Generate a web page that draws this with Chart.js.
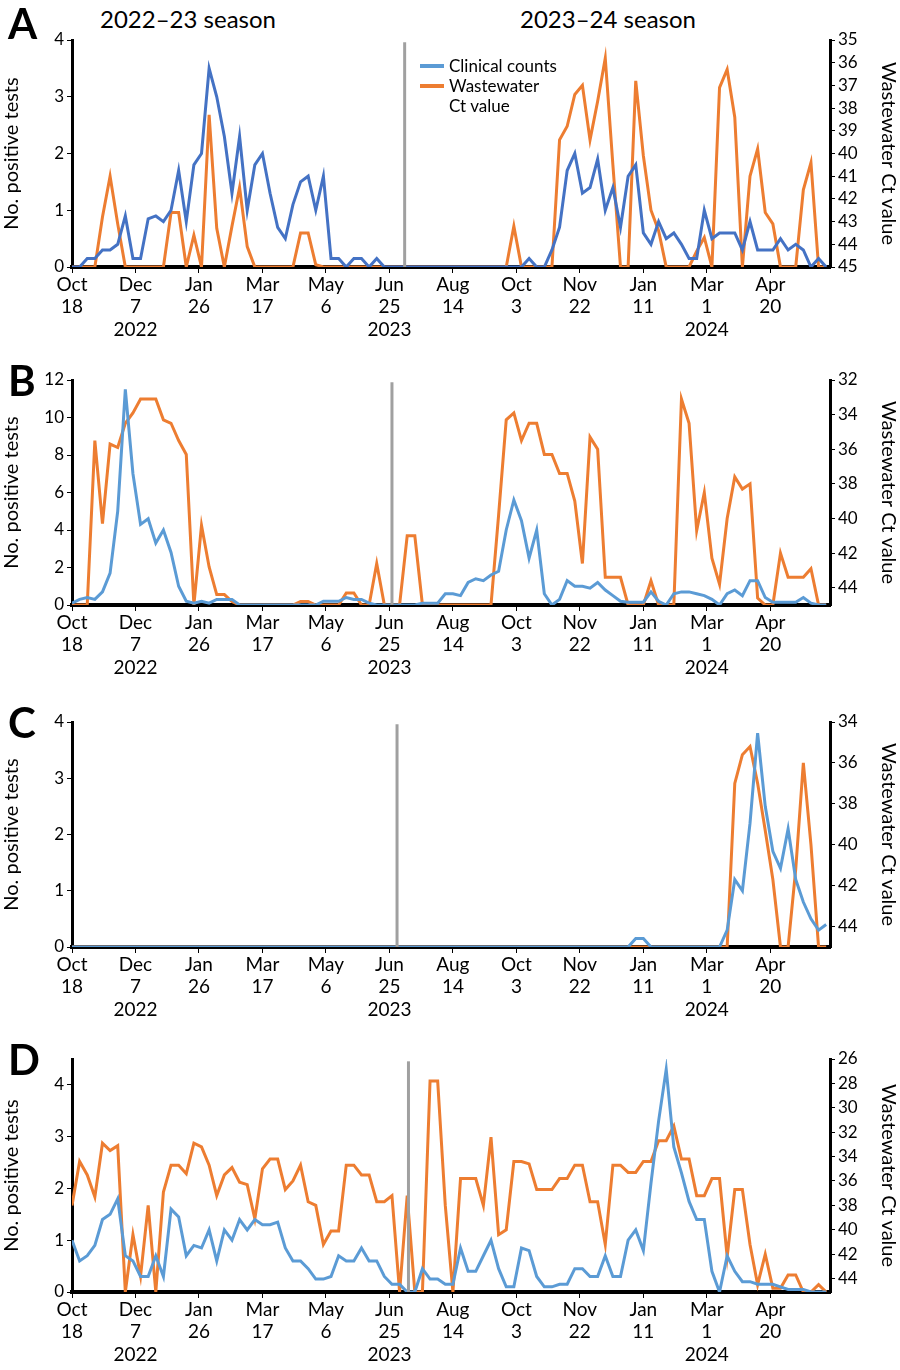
<!DOCTYPE html>
<html>
<head>
<meta charset="utf-8">
<script src="https://cdn.jsdelivr.net/npm/chart.js@4.4.1/dist/chart.umd.min.js"></script>
<style>
  body { margin: 0; width: 900px; height: 1370px; background: #fff; position: relative; font-family: Lato, "Open Sans", sans-serif; overflow: hidden; }
  .panel { position: absolute; left: 0; width: 900px; }
  .letter { position: absolute; left: 8px; font: bold 42px Lato, sans-serif; color: #000; }
  .season { position: absolute; top: 4px; font-size: 24px; color: #000; }
  .legend { position: absolute; left: 420px; top: 56px; font-size: 17px; line-height: 20px; color: #000; }
  .legend div { display: flex; align-items: flex-start; }
  .legend span.sw { display: inline-block; width: 24px; height: 4px; margin: 8px 5px 0 0; }
</style>
</head>
<body>
<div class="season" style="left:100px">2022–23 season</div>
<div class="season" style="left:520px">2023–24 season</div>

<div class="panel" style="top:0;height:345px"><canvas id="chartA"></canvas></div>
<div class="panel" style="top:340px;height:343px"><canvas id="chartB"></canvas></div>
<div class="panel" style="top:682px;height:343px"><canvas id="chartC"></canvas></div>
<div class="panel" style="top:1019px;height:351px"><canvas id="chartD"></canvas></div>

<div class="letter" style="top:-2px">A</div>
<div class="letter" style="top:355px">B</div>
<div class="letter" style="top:697px">C</div>
<div class="letter" style="top:1034px">D</div>

<div class="legend">
  <div><span class="sw" style="background:#5B9BD5"></span>Clinical counts</div>
  <div><span class="sw" style="background:#ED7D31"></span>Wastewater<br>Ct value</div>
</div>

<script>
// days since Oct 18 2022, one value every 6 days
const days = Array.from({ length: 100 }, (_, i) => i * 6);
const tickDays = [0, 50, 100, 150, 200, 250, 300, 350, 400, 450, 500, 550];
const yearTicks = { 50: '2022', 250: '2023', 500: '2024' };

const clinicalA = [0,0,0.15,0.15,0.3,0.3,0.4,0.9,0.15,0.15,0.85,0.9,0.8,1.0,1.7,0.8,1.8,2.0,3.5,3.0,
  2.3,1.3,2.3,1.0,1.8,2.0,1.3,0.7,0.5,1.1,1.5,1.6,1.0,1.6,0.15,0.15,0,0.15,0.15,0,
  0.15,0,0,0,0,0,0,0,0,0,0,0,0,0,0,0,0,0,0,0,
  0.15,0,0,0.3,0.7,1.7,2.0,1.3,1.4,1.9,1.0,1.4,0.7,1.6,1.8,0.6,0.4,0.8,0.5,0.6,
  0.4,0.15,0.15,1.0,0.5,0.6,0.6,0.6,0.3,0.8,0.3,0.3,0.3,0.5,0.3,0.4,0.3,0,0.15,0];
const ctA = [45,45,45,45,42.8,41.0,43.1,45,45,45,45,45,45,42.6,42.6,45,43.6,45,38.3,43.3,
  45,43.2,41.5,44.1,45,45,45,45,45,45,43.5,43.5,44.9,45,45,45,45,45,45,45,
  45,45,45,45,45,45,45,45,45,45,45,45,45,45,45,45,45,45,43.2,45,
  45,45,45,45,39.4,38.8,37.4,37.0,39.4,37.7,35.8,40.5,45,45,36.8,40.1,42.5,43.4,45,45,
  45,45,44.3,43.7,45,37.1,36.3,38.4,45,41.0,39.8,42.6,43.1,45,45,45,41.6,40.4,45,45];

const clinicalB = [0.1,0.3,0.4,0.3,0.7,1.7,5.0,11.5,7.0,4.3,4.6,3.3,4.0,2.8,1.0,0.2,0.1,0.2,0.1,0.3,
  0.3,0.3,0,0,0,0,0,0,0,0,0,0,0,0.2,0.2,0.2,0.4,0.3,0.3,0.1,
  0,0,0,0,0,0,0.1,0.1,0.1,0.6,0.6,0.5,1.2,1.4,1.3,1.6,1.8,4.0,5.6,4.5,
  2.5,4.0,0.6,0,0.3,1.3,1.0,1.0,0.9,1.2,0.8,0.5,0.2,0.15,0.15,0.15,0.7,0.2,0,0.6,
  0.7,0.7,0.6,0.5,0.3,0,0.6,0.8,0.5,1.3,1.3,0.4,0.15,0.15,0.15,0.15,0.4,0.1,0,0];
const ctB = [45,45,45,35.5,40.3,35.7,35.9,34.5,33.9,33.1,33.1,33.1,34.3,34.5,35.5,36.3,45,40.4,42.8,44.4,
  44.4,44.8,45,45,45,45,45,45,45,45,44.8,44.8,45,45,45,45,44.3,44.3,45,45,
  42.6,45,45,45,41.0,41.0,45,45,45,45,45,45,45,45,45,45,39.8,34.3,33.9,35.5,
  34.5,34.5,36.3,36.3,37.4,37.4,39.0,42.6,35.3,36.0,43.4,43.4,43.4,45,45,45,43.6,45,45,45,
  33.1,34.5,40.7,38.5,42.3,43.8,40.0,37.6,38.3,38.0,44.6,45,45,42.0,43.4,43.4,43.4,42.9,45,45];

const clinicalC = [0,0,0,0,0,0,0,0,0,0,0,0,0,0,0,0,0,0,0,0,
  0,0,0,0,0,0,0,0,0,0,0,0,0,0,0,0,0,0,0,0,
  0,0,0,0,0,0,0,0,0,0,0,0,0,0,0,0,0,0,0,0,
  0,0,0,0,0,0,0,0,0,0,0,0,0,0,0.15,0.15,0,0,0,0,
  0,0,0,0,0,0,0.3,1.2,1.0,2.2,3.8,2.5,1.7,1.4,2.1,1.2,0.8,0.5,0.3,0.4];
const ctC = [45,45,45,45,45,45,45,45,45,45,45,45,45,45,45,45,45,45,45,45,
  45,45,45,45,45,45,45,45,45,45,45,45,45,45,45,45,45,45,45,45,
  45,45,45,45,45,45,45,45,45,45,45,45,45,45,45,45,45,45,45,45,
  45,45,45,45,45,45,45,45,45,45,45,45,45,45,45,45,45,45,45,45,
  45,45,45,45,45,45,45,37.0,35.6,35.2,37.0,39.3,41.7,45,45,41.2,36.0,40.0,45,45];

const clinicalD = [1.0,0.6,0.7,0.9,1.4,1.5,1.8,0.7,0.6,0.3,0.3,0.7,0.3,1.6,1.45,0.7,0.9,0.85,1.2,0.6,
  1.2,1.0,1.4,1.2,1.4,1.3,1.3,1.35,0.85,0.6,0.6,0.45,0.25,0.25,0.3,0.7,0.6,0.6,0.85,0.6,
  0.6,0.3,0.15,0.15,0,0,0.45,0.25,0.25,0.15,0.15,0.85,0.4,0.4,0.7,1.0,0.45,0.1,0.1,0.85,
  0.8,0.3,0.1,0.1,0.15,0.15,0.45,0.45,0.3,0.3,0.7,0.3,0.3,1.0,1.2,0.8,2.1,3.3,4.3,2.8,
  2.3,1.75,1.4,1.4,0.4,0,0.7,0.4,0.2,0.2,0.15,0.15,0.15,0.1,0.05,0.05,0.05,0,0,0];
const ctD = [38.0,34.4,35.5,37.3,32.9,33.5,33.1,45.1,40.4,43.8,38.0,45.1,36.9,34.7,34.7,35.4,32.9,33.2,34.7,37.2,
  35.5,34.9,36.1,36.3,39.1,35.0,34.2,34.2,36.7,36.0,34.7,37.7,38.0,41.2,40.1,40.1,34.7,34.7,35.5,35.5,
  37.7,37.7,37.2,45.1,37.2,45.1,45.1,27.8,27.8,38.0,45.1,35.8,35.8,35.8,38.0,32.4,40.4,40.0,34.4,34.4,
  34.6,36.7,36.7,36.7,35.8,35.8,34.7,34.7,37.7,37.7,41.2,34.7,34.7,35.3,35.3,34.4,34.4,32.7,32.7,31.5,
  34.2,34.2,37.2,37.2,35.8,35.8,42.2,36.7,36.7,41.2,44.5,42.0,44.8,44.8,43.7,43.7,45.1,45.1,44.5,45.1];

const MONTHS = ['Jan','Feb','Mar','Apr','May','Jun','Jul','Aug','Sep','Oct','Nov','Dec'];
const FONT = { family: 'Lato, "Open Sans", sans-serif', size: 19 };

function dayLabel(v) {
    const d = new Date(2022, 9, 18 + v);
    const lab = [MONTHS[d.getMonth()], String(d.getDate())];
    if (yearTicks[v]) lab.push(yearTicks[v]);
    return lab;
}

function makePanel(id, blue, ct, opt) {
    const ctx = document.getElementById(id).getContext('2d');
    new Chart(ctx, {
        type: 'line',
        data: {
            datasets: [
                {
                    data: [{ x: opt.divider, y: 0 }, { x: opt.divider, y: opt.leftMax * 0.99 }],
                    borderColor: '#A0A0A0', borderWidth: 3, pointRadius: 0, yAxisID: 'y'
                },
                {
                    data: days.map((d, i) => ({ x: d, y: blue[i] })),
                    borderColor: opt.blueColor, borderWidth: 3, pointRadius: 0, yAxisID: 'y'
                },
                {
                    data: days.map((d, i) => ({ x: d, y: ct[i] })),
                    borderColor: '#ED7D31', borderWidth: 3, pointRadius: 0, yAxisID: 'y2'
                }
            ]
        },
        options: {
            responsive: true,
            maintainAspectRatio: false,
            animation: false,
            layout: { padding: { top: 40, bottom: 0, left: 0, right: 0 } },
            plugins: { legend: { display: false }, tooltip: { enabled: false } },
            scales: {
                x: {
                    type: 'linear', min: 0, max: 597,
                    afterBuildTicks: s => { s.ticks = tickDays.map(v => ({ value: v })); },
                    afterFit: s => { s.height = 78; },
                    ticks: { callback: v => dayLabel(v), color: '#000', font: FONT, maxRotation: 0, autoSkip: false, padding: 0 },
                    grid: { drawOnChartArea: false, drawTicks: true, tickLength: 6, color: '#000' },
                    border: { color: '#000', width: 4 }
                },
                y: {
                    min: 0, max: opt.leftMax,
                    afterBuildTicks: s => { s.ticks = opt.leftTicks.map(v => ({ value: v })); },
                    afterFit: s => { s.width = 72; },
                    ticks: { color: '#000', font: { family: FONT.family, size: 17 }, padding: 3, autoSkip: false },
                    grid: { drawOnChartArea: false, drawTicks: true, tickLength: 5, color: '#000' },
                    border: { color: '#000', width: 3 },
                    title: { display: true, text: 'No. positive tests', color: '#000', font: { family: FONT.family, size: 20 }, padding: 0 }
                },
                y2: {
                    position: 'right', reverse: true, min: opt.ctMin, max: opt.ctMax,
                    afterBuildTicks: s => { s.ticks = opt.ctTicks.map(v => ({ value: v })); },
                    afterFit: s => { s.width = 70; },
                    ticks: { color: '#000', font: { family: FONT.family, size: 17 }, padding: 3, autoSkip: false },
                    grid: { drawOnChartArea: false, drawTicks: true, tickLength: 5, color: '#000' },
                    border: { color: '#000', width: 3 },
                    title: { display: true, text: 'Wastewater Ct value', color: '#000', font: { family: FONT.family, size: 20 }, padding: 0 }
                }
            }
        }
    });
}

const ticks0to4 = [0, 1, 2, 3, 4];
makePanel('chartA', clinicalA, ctA, {
    blueColor: '#4472C4', divider: 262, leftMax: 4, leftTicks: ticks0to4,
    ctMin: 35, ctMax: 45, ctTicks: [35,36,37,38,39,40,41,42,43,44,45]
});
makePanel('chartB', clinicalB, ctB, {
    blueColor: '#5B9BD5', divider: 252, leftMax: 12, leftTicks: [0,2,4,6,8,10,12],
    ctMin: 32, ctMax: 45, ctTicks: [32,34,36,38,40,42,44]
});
makePanel('chartC', clinicalC, ctC, {
    blueColor: '#5B9BD5', divider: 256, leftMax: 4, leftTicks: ticks0to4,
    ctMin: 34, ctMax: 45, ctTicks: [34,36,38,40,42,44]
});
makePanel('chartD', clinicalD, ctD, {
    blueColor: '#5B9BD5', divider: 265, leftMax: 4.5, leftTicks: ticks0to4,
    ctMin: 26, ctMax: 45.1, ctTicks: [26,28,30,32,34,36,38,40,42,44]
});
</script>
</body>
</html>
